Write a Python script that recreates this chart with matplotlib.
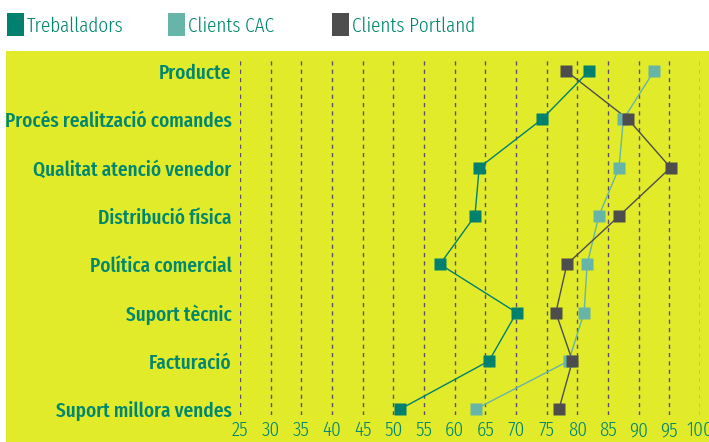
"""Dot plot: valoració per aspecte (Treballadors / Clients CAC / Clients Portland)."""

import matplotlib
matplotlib.use("Agg")
import matplotlib.pyplot as plt
from matplotlib.patches import Rectangle

CATEGORIES = [
    "Producte",
    "Procés realització comandes",
    "Qualitat atenció venedor",
    "Distribució física",
    "Política comercial",
    "Suport tècnic",
    "Facturació",
    "Suport millora vendes",
]
TREBALLADORS = [81.9, 74.2, 64.0, 63.3, 57.6, 70.1, 65.6, 51.1]
CLIENTS_CAC = [92.5, 87.5, 86.8, 83.5, 81.6, 81.1, 78.6, 63.4]
CLIENTS_PORTLAND = [78.2, 88.3, 95.2, 86.8, 78.3, 76.5, 79.2, 77.0]
XTICKS = list(range(25, 101, 5))

YELLOW = "#e1eb2a"
TEAL_TEXT = "#00876f"
C_TREB = "#00806f"
C_CAC = "#66b5a8"
C_PORT = "#4d4d4d"
FONT = ["Fira Sans Extra Condensed", "DejaVu Sans"]

plt.rcParams["font.family"] = FONT

W, H = 709, 442
fig = plt.figure(figsize=(W / 100, H / 100), dpi=100)
fig.patch.set_facecolor("white")
fig.patches.append(Rectangle((6 / W, 0), 1, 1 - 51 / H, transform=fig.transFigure,
                             facecolor=YELLOW, edgecolor="none", zorder=-10))

ax = fig.add_axes([240 / W, 1 - 415 / H, 460 / W, (415 - 59) / H])
ax.set_facecolor("none")
for s in ax.spines.values():
    s.set_visible(False)

ys = list(range(len(CATEGORIES)))
ax.set_xlim(25, 100)
ax.set_ylim(7.12, -0.25)

for x in XTICKS:
    ax.axvline(x, color="#5b4f6a", lw=1.0, ls=(0, (3, 3)), zorder=1)

series = [
    (CLIENTS_CAC, C_CAC),
    (CLIENTS_PORTLAND, C_PORT),
    (TREBALLADORS, C_TREB),
]
for i, (vals, col) in enumerate(series):
    ax.plot(vals, ys, color=col, lw=1.0, zorder=2 + i)
    ax.plot(vals, ys, ls="none", marker="s", ms=8.6, mfc=col, mec="none", zorder=5 + i)

ax.set_xticks(XTICKS)
ax.set_xticklabels([str(x) for x in XTICKS], color=TEAL_TEXT, fontsize=15, fontweight=300)
ax.set_yticks(ys)
ax.set_yticklabels(CATEGORIES, color=TEAL_TEXT, fontsize=15, fontweight=500)
ax.tick_params(axis="both", length=0)
ax.tick_params(axis="x", pad=4)
ax.tick_params(axis="y", pad=6)

# legend across the top
legend = [(7, "Treballadors", C_TREB), (168, "Clients CAC", C_CAC), (332, "Clients Portland", C_PORT)]
for px, lab, col in legend:
    fig.patches.append(Rectangle((px / W, 1 - 36 / H), 17 / W, 23 / H, transform=fig.transFigure,
                                 facecolor=col, edgecolor="none"))
    fig.text((px + 20) / W, 1 - 26 / H, lab, color=TEAL_TEXT, fontsize=15, fontweight=300,
             va="center", ha="left")

fig.savefig("out.png", dpi=100)
